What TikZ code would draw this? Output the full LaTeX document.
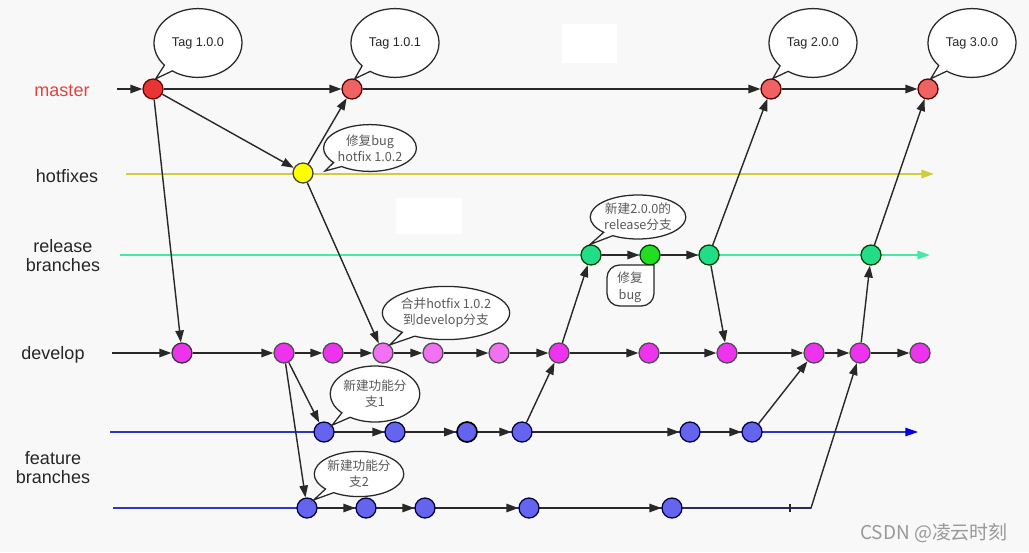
\documentclass[tikz,border=0pt]{standalone}
\usepackage{fontspec}
\setmainfont{Liberation Sans}
\newfontfamily\cjk{Noto Sans CJK SC}
\usetikzlibrary{arrows.meta,shapes.callouts}
\definecolor{bgcol}{RGB}{248,248,248}
\definecolor{ink}{RGB}{40,40,40}
\definecolor{mred}{RGB}{232,52,52}
\definecolor{mredlt}{RGB}{240,98,98}
\definecolor{mlabel}{RGB}{226,66,66}
\definecolor{hfline}{RGB}{206,206,60}
\definecolor{hffill}{RGB}{255,255,0}
\definecolor{relline}{RGB}{70,232,165}
\definecolor{relfill}{RGB}{34,221,136}
\definecolor{relfix}{RGB}{34,221,34}
\definecolor{devfill}{RGB}{238,51,238}
\definecolor{devlt}{RGB}{242,112,242}
\definecolor{featfill}{RGB}{100,100,238}
\definecolor{featline}{RGB}{45,55,195}
\definecolor{featarrow}{RGB}{0,0,220}
\tikzset{
	commit/.style={circle, minimum size=0.5cm, inner sep=0pt, line width=0.9pt, draw=ink},
	flow/.style={-{Triangle[length=8.5pt,width=6pt]}, line width=1pt, draw=ink},
	branch/.style={line width=1.3pt},
	bubble/.style={ellipse callout, draw=ink, fill=white, line width=0.9pt, inner sep=0pt,
		callout pointer arc=14, align=center, text=black!65,
		font=\cjk\fontsize{9}{11.5}\selectfont},
	tagbubble/.style={bubble, minimum width=2.2cm, minimum height=1.72cm, text=black!85,
		font=\fontsize{9}{11}\selectfont},
	lane/.style={align=center, text=black!85, font=\fontsize{12.8}{13.5}\selectfont}
}

\begin{document}
\begin{tikzpicture}[x=0.025cm, y=-0.025cm]
	%%%%% CANVAS %%%%%
	\fill[bgcol] (0,0) rectangle (1029,552);
	\useasboundingbox (0,0) rectangle (1029,552);
	\fill[white] (562,24) rectangle (617,63);
	\fill[white] (396,198) rectangle (462,234);
	
	%%%%% BRANCH LINES %%%%%
	\coordinate (mstart) at (117,89);
	\coordinate (hstart) at (126,174);
	\coordinate (hend) at (934,174);
	\coordinate (rstart) at (120,255);
	\coordinate (rend) at (930,255);
	\coordinate (dstart) at (112,353);
	\coordinate (fastart) at (110,432);
	\coordinate (faend) at (918,432);
	\coordinate (fbstart) at (113,508);
	\coordinate (fbtick) at (790,508);
	\coordinate (fbbend) at (811,508);
	
	\draw[branch, hfline, -{Triangle[length=9pt,width=6pt]}] (hstart) -- (hend);
	\draw[branch, relline, -{Triangle[length=9pt,width=6pt]}] (rstart) -- (rend);
	\draw[featline, line width=1pt, -{Triangle[color=featarrow,length=9pt,width=6pt]}] (fastart) -- (faend);
	\draw[featline, line width=1pt] (fbstart) -- (fbbend);
	\draw[ink, line width=0.8pt] ([yshift=-0.1cm]fbtick) -- ([yshift=0.1cm]fbtick);
	
	%%%%% COMMITS %%%%%
	\node[commit, fill=mred, draw=red!40!black] (M1) at (153,89) {};
	\node[commit, fill=mredlt, draw=red!30!black] (M2) at (352,89) {};
	\node[commit, fill=mredlt, draw=red!30!black] (M3) at (771,89) {};
	\node[commit, fill=mredlt, draw=red!30!black] (M4) at (928,89) {};
	
	\node[commit, fill=hffill, draw=black!75] (H1) at (303,173) {};
	
	\node[commit, fill=relfill, draw=green!25!black] (R1) at (591,255) {};
	\node[commit, fill=relfix, draw=green!25!black] (R2) at (650,255) {};
	\node[commit, fill=relfill, draw=green!25!black] (R3) at (709,255) {};
	\node[commit, fill=relfill, draw=green!25!black] (R4) at (871,255) {};
	
	\node[commit, fill=devfill, draw=black!80] (D1) at (182,353) {};
	\node[commit, fill=devfill, draw=black!70] (D2) at (284,353) {};
	\node[commit, fill=devfill, draw=black!70] (D3) at (333,353) {};
	\node[commit, fill=devlt, draw=black!70] (D4) at (383,353) {};
	\node[commit, fill=devlt, draw=black!70] (D5) at (433,353) {};
	\node[commit, fill=devlt, draw=black!70] (D6) at (499,353) {};
	\node[commit, fill=devfill, draw=black!70] (D7) at (559,353) {};
	\node[commit, fill=devfill, draw=black!70] (D8) at (649,353) {};
	\node[commit, fill=devfill, draw=black!70] (D9) at (727,353) {};
	\node[commit, fill=devfill, draw=black!70] (D10) at (814,353) {};
	\node[commit, fill=devfill, draw=black!70] (D11) at (860,353) {};
	\node[commit, fill=devfill, draw=black!70] (D12) at (920,353) {};
	
	\node[commit, fill=featfill, draw=blue!25!black] (Fa1) at (324,432) {};
	\node[commit, fill=featfill, draw=blue!25!black] (Fa2) at (395,432) {};
	\node[commit, fill=featfill, draw=black, line width=1.2pt] (Fa3) at (467,432) {};
	\node[commit, fill=featfill, draw=blue!25!black] (Fa4) at (522,432) {};
	\node[commit, fill=featfill, draw=blue!25!black] (Fa5) at (690,432) {};
	\node[commit, fill=featfill, draw=blue!25!black] (Fa6) at (752,432) {};
	
	\node[commit, fill=featfill, draw=blue!25!black] (Fb1) at (307,508) {};
	\node[commit, fill=featfill, draw=blue!25!black] (Fb2) at (366,508) {};
	\node[commit, fill=featfill, draw=blue!25!black] (Fb3) at (425,508) {};
	\node[commit, fill=featfill, draw=blue!25!black] (Fb4) at (529,508) {};
	\node[commit, fill=featfill, draw=blue!25!black] (Fb5) at (672,508) {};
	
	%%%%% FLOWS %%%%%
	\draw[flow] (mstart) -- (M1);
	\draw[flow] (M1) -- (M2);
	\draw[flow] (M2) -- (M3);
	\draw[flow] (M3) -- (M4);
	\draw[flow] (M1) -- (H1);
	\draw[flow] (H1) -- (M2);
	\draw[flow] (M1) -- (D1);
	\draw[flow] (H1) -- (D4);
	
	\draw[flow] (R1) -- (R2);
	\draw[flow] (R2) -- (R3);
	\draw[flow] (R3) -- (M3);
	\draw[flow] (R3) -- (D9);
	\draw[flow] (R4) -- (M4);
	\draw[flow] (D11) -- (R4);
	\draw[flow] (D7) -- (R1);
	
	\draw[flow] (dstart) -- (D1);
	\foreach \a/\b in {D1/D2,D2/D3,D3/D4,D4/D5,D5/D6,D6/D7,D7/D8,D8/D9,D9/D10,D10/D11,D11/D12}
		\draw[flow] (\a) -- (\b);
	
	\draw[flow] (D2) -- (Fa1);
	\draw[flow] (D2) -- (Fb1);
	\foreach \a/\b in {Fa1/Fa2,Fa2/Fa3,Fa3/Fa4,Fa4/Fa5,Fa5/Fa6}
		\draw[flow] (\a) -- (\b);
	\draw[flow] (Fa4) -- (D7);
	\draw[flow] (Fa6) -- (D10);
	
	\foreach \a/\b in {Fb1/Fb2,Fb2/Fb3,Fb3/Fb4,Fb4/Fb5}
		\draw[flow] (\a) -- (\b);
	\draw[flow] (Fb5) -- (fbbend) -- (D11);
	
	%%%%% BUBBLES %%%%%
	\node[tagbubble, callout absolute pointer={(M1.75)}] (tag100) at (198,43) {Tag 1.0.0};
	\node[tagbubble, callout absolute pointer={(M2.75)}] (tag101) at (395,43) {Tag 1.0.1};
	\node[tagbubble, callout absolute pointer={(M3.80)}] (tag200) at (813,43) {Tag 2.0.0};
	\node[tagbubble, callout absolute pointer={(M4.75)}] (tag300) at (972,43) {Tag 3.0.0};
	
	\node[bubble, minimum width=2.32cm, minimum height=1.17cm, callout absolute pointer={(325,171)}] (hotfixnote) at (370,148) {修复bug\\hotfix 1.0.2};
	\node[bubble, minimum width=2.3cm, minimum height=1.1cm, callout absolute pointer={(R1.95)}] (relnote) at (638,217) {新建2.0.0的\\release分支};
	\node[bubble, minimum width=2.85cm, minimum height=1.33cm, callout absolute pointer={(D4.50)}] (mergenote) at (446,313) {合并hotfix 1.0.2\\到develop分支};
	\node[bubble, minimum width=2.08cm, minimum height=1.4cm, callout absolute pointer={(Fa1.40)}] (featanote) at (375,394) {新建功能分\\支1};
	\node[bubble, minimum width=2.08cm, minimum height=1.13cm, callout absolute pointer={(Fb1.50)}] (featbnote) at (359,474) {新建功能分\\支2};
	
	\draw[ink, line width=0.9pt, fill=white, rounded corners=9pt] (654,265) -- (654,306) -- (607,306) -- (607,265) -- (654,265);
	\node[align=center, text=black!65, font=\cjk\fontsize{9}{12}\selectfont] (fixnote) at (630,287) {修复\\bug};
	
	%%%%% LANE LABELS %%%%%
	\node[lane, text=mlabel] (lmaster) at (62,91) {master};
	\node[lane] (lhotfix) at (67,176) {hotfixes};
	\node[lane] (lrelease) at (63,256) {release\\branches};
	\node[lane] (ldevelop) at (53,355) {develop};
	\node[lane] (lfeature) at (53,468) {feature\\branches};
	
	\node[text=black!40, font=\cjk\fontsize{13.5}{15}\selectfont] (mark) at (934,533) {CSDN @凌云时刻};
\end{tikzpicture}
\end{document}
